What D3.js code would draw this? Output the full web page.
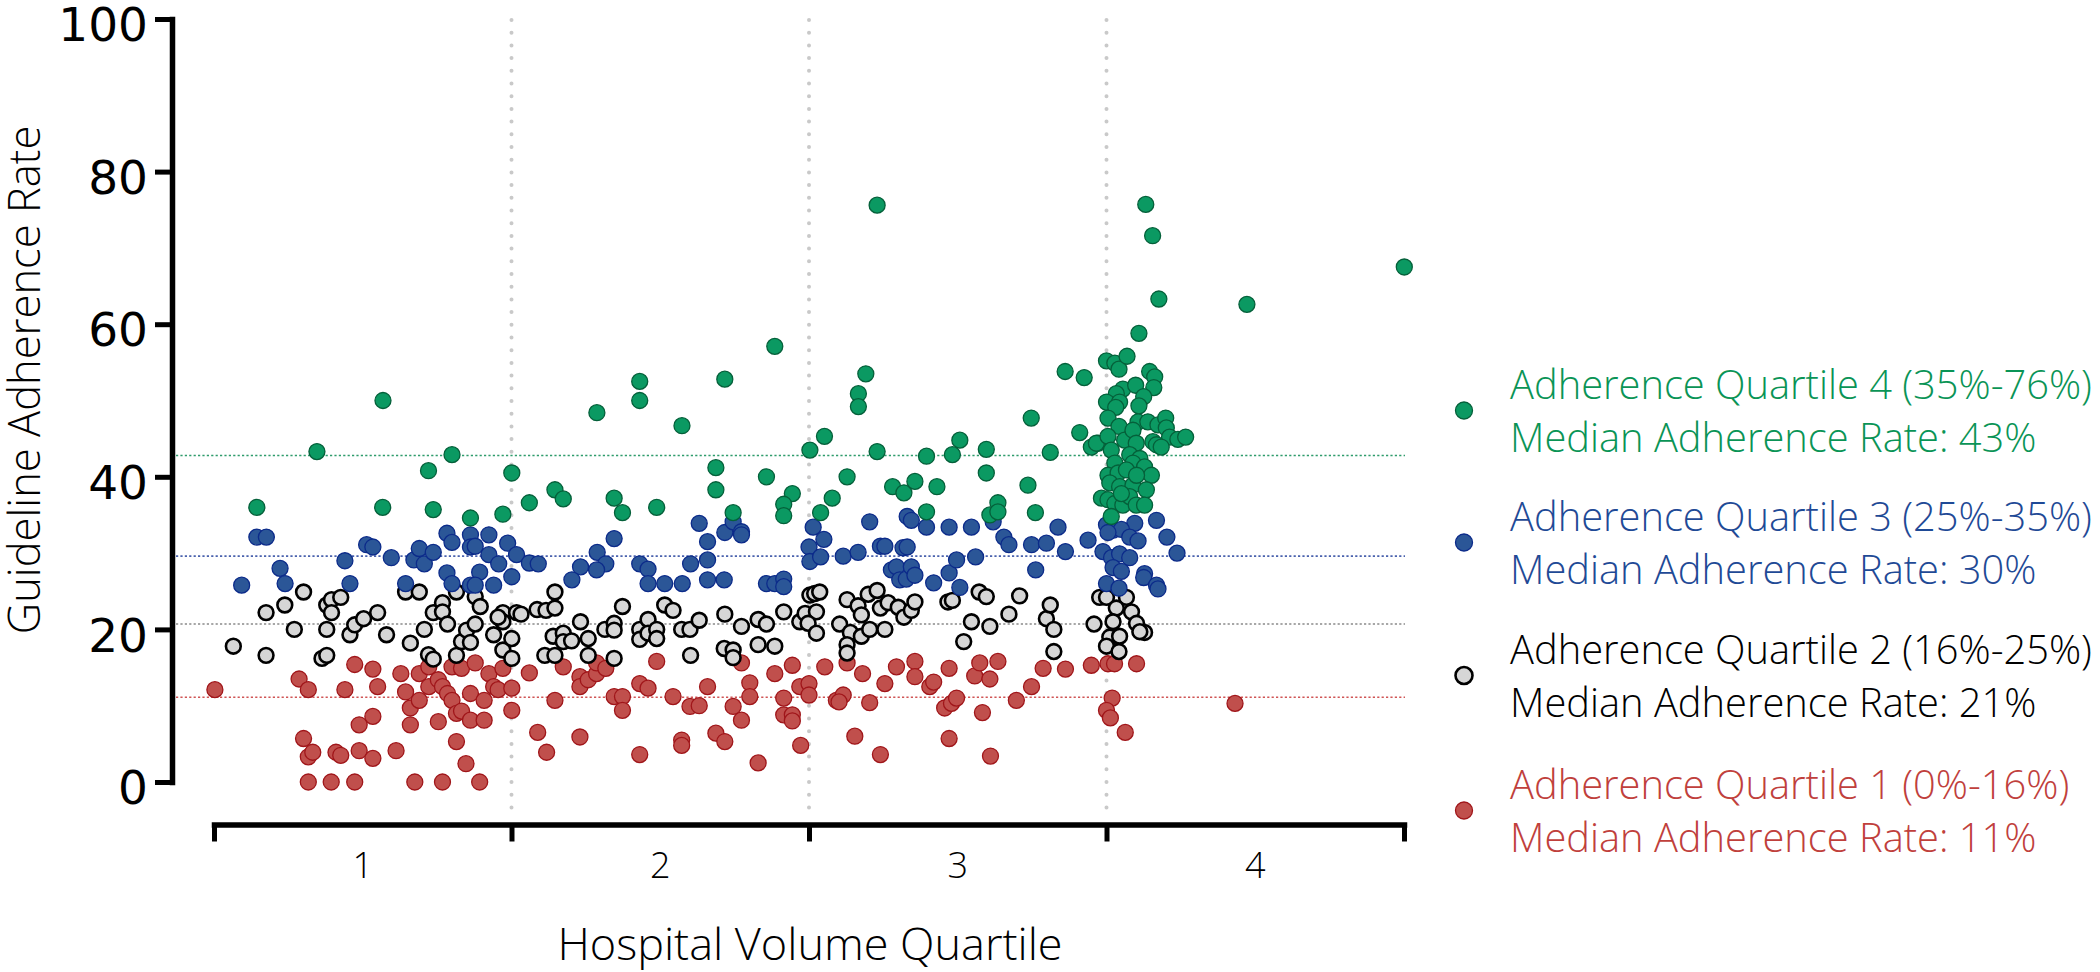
<!DOCTYPE html>
<html><head><meta charset="utf-8">
<script src="https://cdn.jsdelivr.net/npm/d3@7"></script>
<style>html,body{margin:0;padding:0;background:#fff;} svg{display:block;}</style>
</head><body>
<svg id="chart" width="2100" height="972"></svg>
<script>
// ---------------- DATA ----------------
// x: hospital volume index (each quartile spans 100 units), y: guideline adherence rate (%)
const categories = ["1", "2", "3", "4"];
const yTicks = [0, 20, 40, 60, 80, 100];
const quartileBounds = [100, 200, 300];
const medians = [42.8, 29.6, 20.7, 11.1];
const legendTitles = ["Adherence Quartile 4 (35%-76%)", "Adherence Quartile 3 (25%-35%)", "Adherence Quartile 2 (16%-25%)", "Adherence Quartile 1 (0%-16%)"];
const legendMedians = ["Median Adherence Rate: 43%", "Median Adherence Rate: 30%", "Median Adherence Rate: 21%", "Median Adherence Rate: 11%"];
const xTitle = "Hospital Volume Quartile";
const yTitle = "Guideline Adherence Rate";

const q4Points = [
[56.8,50.0],[128.7,48.4],[143.1,52.5],[143.1,50.0],[157.3,46.7],[171.7,52.8],[188.5,57.1],[205.2,45.3],[219.1,53.5],[216.6,50.9],[216.6,49.2],[250.7,44.8],[274.7,47.7],[286.1,53.8],[292.5,53.0],[291,45.8],
[313.2,75.7],[315.5,71.6],[400.1,67.5],[317.6,63.3],[347.2,62.6],[222.9,75.6],
[34.6,43.3],[80.0,42.9],[72.1,40.8],[100.1,40.5],[14.4,36.0],[56.7,36.0],[73.7,35.7],[86.2,34.6],[97.1,35.1],
[114.6,38.3],[117.4,37.1],[106.0,36.6],[134.5,37.2],[137.3,35.3],[148.8,36.0],[168.7,41.2],[168.7,38.3],[174.5,35.3],[185.7,40.0],[194.4,37.8],[191.5,36.4],[191.5,34.9],[200.3,43.5],
[222.9,43.3],[239.5,42.7],[248.2,42.9],[259.6,43.6],[281.1,43.2],[212.8,40.0],[207.8,37.2],[203.9,35.3],[228.1,38.7],[231.9,37.9],[235.6,39.4],[243.0,38.7],[239.5,35.4],[259.6,40.5],[260.8,35.0],[263.5,36.6],[263.5,35.4],[273.6,38.9],[276.1,35.3],[294.9,43.9],[297.2,44.4],
[310.9,58.8],[300,55.2],[302.8,54.9],[304.2,54.1],[306.9,55.8],[314.5,53.8],[316.2,53.1],[315.9,51.7],
[305.5,51.5],[309.8,52.0],[312.5,50.5],[310.9,49.3],[303.3,50.9],[300,49.8],[304.4,49.8],[303.1,49.1],
[300.5,47.7],[304.2,46.6],[310.6,47.2],[313.9,47.2],[317.3,46.8],[319.9,47.7],[320.1,46.4],[321.2,45.2],[324,44.9],[326.6,45.2],
[296.6,44.4],[300.5,45.3],[301.6,43.5],[306.1,44.8],[308.9,46.1],[310.0,44.4],[315.6,44.6],[316.8,44.2],[318.4,43.9],
[307.8,42.9],[311.2,42.4],[308.9,41.8],[302.8,41.8],[300.5,40.2],[303.9,40.5],[306.7,40.9],[312.8,41.3],[315.1,40.2],[301.1,39.2],[304.4,38.7],[308.9,38.9],[313.4,38.3],[310.1,40.2],
[298.3,37.2],[300.5,37.0],[302.8,36.5],[305.5,36.3],[307.8,37.4],[310.0,36.3],[312.8,36.3],[305.0,37.8],[301.6,34.8]
];

const q3Points = [
[14.4,32.1],[17.6,32.1],[9.3,25.8],[22.2,28.0],[23.9,26.0],[44.0,29.0],[45.7,26.0],[51.3,31.1],[53.4,30.8],[59.6,29.4],[64.4,26.0],[67.2,29.1],[69.0,30.6],[70.7,28.6],[73.7,30.1],[78.3,32.6],[80.0,31.4],[78.3,27.4],[80.0,26.0],[86.2,32.4],[86.2,30.8],[87.8,30.9],[92.4,32.4],[92.4,29.8],[89.3,27.5],[95.7,28.6],[98.7,31.3],[86.2,25.8],[87.8,25.8],[94.0,25.8],[100.1,26.9],[101.7,29.8],
[106.0,28.7],[109.0,28.6],[134.5,31.9],[128.8,30.1],[131.7,28.6],[128.6,27.8],[123.2,28.2],[120.3,26.5],[143.1,28.6],[145.9,27.9],[145.9,26.0],[151.5,26.0],[157.4,26.0],[160.2,28.6],[163.1,33.9],[165.9,31.5],[165.9,29.1],[165.9,26.5],[171.5,26.5],[171.7,32.7],[174.5,34.1],[177.3,32.8],[177.3,32.4],[185.7,26.0],[188.5,26.0],[191.5,26.6],[191.5,25.6],
[201.4,33.4],[205.0,31.8],[200.0,30.8],[200.3,28.9],[203.9,29.5],[211.5,29.6],[216.5,30.1],[220.4,34.1],[224.0,30.9],[225.5,30.9],[231.6,30.7],[233.0,30.8],[233.0,34.8],[234.4,34.3],[239.5,33.4],[247.1,33.4],[254.6,33.4],[227.7,27.8],[229.4,28.2],[230.5,26.5],[232.7,26.6],[234.4,28.2],[235.6,27.1],[241.9,26.1],[247.1,27.4],[249.6,29.1],[250.7,25.5],[256.0,29.5],[265.5,32.1],[267.2,31.1],[274.8,31.1],[279.8,31.3],[283.7,33.4],[286.2,30.2],[293.8,31.7],[276.2,27.8],[261.9,34.1],
[316.8,34.3],[320.3,32.1],[323.7,30.0],[309.5,33.9],[300,33.7],[302.2,33.0],[305,33.1],[307.8,32.1],[310.6,31.6],[298.8,30.2],[301.7,29.4],[304.4,29.9],[307.8,29.4],[302.2,28.1],[305,27.6],[312.8,27.3],[312.5,26.8],[316.8,25.8],[317.3,25.3],[300,26.0],[304.2,25.4],[300.5,32.7]
];

const q2Points = [
[6.5,17.8],[17.5,16.6],[17.5,22.2],[23.8,23.2],[27.0,20.0],[30.1,24.9],[37.9,20.0],[36.3,16.2],[37.9,16.6],[37.9,23.2],[39.5,23.9],[42.6,24.2],[39.5,22.2],[45.7,19.3],[47.3,20.6],[50.3,21.4],[55.0,22.2],[58.0,19.3],[66.0,18.2],[64.4,24.9],[69.0,24.9],[70.7,20.0],[72.1,16.7],[73.7,16.1],[73.7,22.2],[76.8,23.5],[76.8,22.3],[78.5,20.7],[81.5,24.9],[81.5,16.6],[83.2,18.4],[84.9,19.9],[86.2,18.3],[87.8,20.7],[87.8,24.3],[89.5,23.0],[94.0,19.3],[97.1,22.2],[97.1,21.0],[97.1,17.3],[100.1,18.8],[100.1,16.2],[101.7,22.2],[95.5,21.6],
[103.2,22.0],[108.6,22.6],[111.6,22.5],[114.6,22.8],[114.6,24.9],[111.2,16.6],[114.6,16.6],[114.0,19.1],[117.4,19.5],[117.4,18.4],[120.2,18.5],[123.2,21.0],[125.8,18.8],[125.8,16.6],[131.4,20.0],[134.5,20.8],[134.5,19.9],[134.5,16.2],[137.3,23.0],[143.1,20.0],[143.1,18.7],[145.9,21.3],[145.9,19.5],[148.8,20.0],[148.8,18.8],[151.5,23.2],[154.3,22.5],[157.2,20.0],[160.0,20.0],[163.1,21.2],[160.2,16.6],[171.7,22.0],[171.5,17.5],[174.5,17.3],[174.5,16.3],[177.3,20.4],[182.9,21.3],[185.7,20.7],[182.9,18.0],[188.5,17.8],[191.5,22.3],[196.9,21.0],
[200.3,24.5],[201.9,24.7],[203.6,24.9],[198.7,22.1],[202.5,22.3],[199.7,20.8],[202.5,19.5],[210.3,20.7],[212.8,23.9],[213.9,19.6],[212.8,18.0],[212.8,16.9],[216.5,23.1],[217.6,21.9],[217.6,19.1],[220.4,20.0],[219.9,24.6],[222.9,25.1],[224.0,22.8],[226.6,23.5],[225.5,20.0],[230.0,22.9],[231.9,21.6],[234.4,22.5],[235.6,23.6],[246.7,23.6],[248.2,23.8],[252.0,18.4],[254.6,21.0],[257.2,24.9],[259.6,24.3],[260.8,20.4],[267.2,22.0],[270.8,24.4],[279.8,21.4],[281.1,23.2],[282.3,20.0],[282.3,17.1],[295.8,20.7],
[297.7,24.2],[300,24.2],[306.7,24.2],[303.3,22.8],[308.4,22.3],[302.2,21.0],[310.1,20.8],[312.8,19.6],[311.2,19.7],[301.1,19.0],[304.4,19.1],[300,17.8],[304.2,17.1]
];

const q1Points = [
[0.3,12.1],[28.6,13.5],[31.7,12.1],[44.0,12.1],[47.3,15.4],[53.4,14.8],[55.0,12.5],[48.8,7.5],[53.4,8.6],[30.1,5.7],[31.7,3.3],[33.2,3.9],[41.0,3.9],[42.6,3.5],[48.8,4.1],[53.4,3.1],[61.2,4.1],[31.7,0],[39.4,0],[47.3,0],[67.5,0],[76.8,0],[89.3,0],[62.8,14.2],[64.4,11.8],[66.0,9.7],[66.0,7.5],[69.0,14.2],[69.0,10.7],[72.2,12.5],[72.2,15.1],[75.4,13.4],[75.4,7.9],[76.8,12.5],[78.5,11.6],[80.0,15.1],[80.0,10.7],[81.5,9.0],[81.5,5.3],[83.2,9.3],[83.2,14.9],[84.7,2.4],[86.2,11.6],[86.2,8.1],[87.8,15.6],[90.8,8.1],[90.8,10.7],[92.4,14.2],[94.0,12.5],[95.5,12.1],[97.1,14.9],[100.1,12.3],[100.1,9.4],
[106.0,14.3],[117.4,15.1],[114.6,10.7],[108.8,6.5],[111.8,3.9],[123.0,5.9],[123.0,13.8],[123.0,12.5],[125.8,13.4],[128.6,14.2],[128.6,15.6],[131.7,14.9],[134.5,11.2],[137.3,11.2],[137.3,9.4],[148.8,15.8],[143.1,12.9],[145.9,12.3],[143.1,3.6],[154.3,11.2],[160.0,9.9],[163.1,10.0],[157.2,5.5],[157.2,4.8],[165.9,12.5],[168.7,6.4],[171.7,5.3],[174.5,9.9],[177.3,8.1],[177.3,15.6],[180.1,13.0],[180.1,11.2],[182.9,2.5],[188.5,14.2],[191.5,11.0],[191.5,8.8],[194.4,8.8],[194.4,8.0],[194.4,15.3],[197.2,4.8],[196.9,12.5],[200.0,12.9],[200.0,11.4],
[205.3,15.1],[209.2,10.7],[211.5,11.4],[210.1,10.5],[212.8,15.6],[215.4,6.0],[218.0,14.2],[220.4,10.4],[224.0,3.6],[225.5,12.9],[229.4,15.1],[235.6,15.8],[235.6,13.8],[240.6,12.5],[241.9,13.1],[245.6,9.7],[247.9,10.3],[249.6,11.0],[247.1,14.9],[247.1,5.7],[255.7,13.9],[257.4,15.6],[260.8,13.5],[263.5,15.8],[258.3,9.1],[261.0,3.4],[269.7,10.7],[274.8,12.5],[278.7,14.9],[286.2,14.8],[294.9,15.3],
[300.5,15.5],[302.7,15.5],[310.1,15.5],[301.9,11.0],[300,9.4],[301.3,8.4],[306.3,6.5],[343.2,10.3]
];

// ---------------- STYLE ----------------
const series = [
  {pts: q4Points, fill: "#0b9962", stroke: "#05603a", sw: 1.3, line: "#2f9c6c", text: "#0a9456"},
  {pts: q3Points, fill: "#2b5697", stroke: "#0c2b8a", sw: 1.3, line: "#4a62ad", text: "#1f4a96"},
  {pts: q2Points, fill: "#d6d6d6", stroke: "#000000", sw: 2.6, line: "#8a8a8a", text: "#000000"},
  {pts: q1Points, fill: "#c04f4c", stroke: "#a0161a", sw: 1.3, line: "#d05555", text: "#c0403c"}
];
series.forEach((s, i) => { s.median = medians[i]; s.title = legendTitles[i]; s.medText = legendMedians[i]; });

const svg = d3.select("#chart");
const x = d3.scaleLinear().domain([0, 400]).range([214, 1404]);
const y = d3.scaleLinear().domain([0, 100]).range([782, 19]);
const xBand = d3.scaleBand().domain(categories).range([214, 1404]);
const textFont = "'Open Sans', 'Noto Sans', sans-serif";

// vertical quartile separators
svg.append("g").selectAll("line").data(quartileBounds).join("line")
  .attr("x1", d => x(d)).attr("x2", d => x(d))
  .attr("y1", 20).attr("y2", 815)
  .attr("stroke", "#c9c9c9").attr("stroke-width", 4)
  .attr("stroke-linecap", "round").attr("stroke-dasharray", "0 12.7");

// median lines
svg.append("g").selectAll("line").data(series).join("line")
  .attr("x1", 176).attr("x2", 1405)
  .attr("y1", d => y(d.median)).attr("y2", d => y(d.median))
  .attr("stroke", d => d.line).attr("stroke-width", 1.6)
  .attr("stroke-dasharray", "2.2 2.2");

// points (red first, green last)
const ptsG = svg.append("g");
series.slice().reverse().forEach(s => {
  ptsG.append("g").selectAll("circle").data(s.pts).join("circle")
    .attr("cx", d => x(d[0])).attr("cy", d => y(d[1]))
    .attr("r", s.sw > 2 ? 7.4 : 8.0)
    .attr("fill", s.fill).attr("stroke", s.stroke).attr("stroke-width", s.sw);
});

// Y axis
const yAxis = svg.append("g").attr("transform", "translate(172,0)")
  .call(d3.axisLeft(y).tickValues(yTicks).tickSize(17).tickSizeOuter(0).tickPadding(7));
yAxis.select(".domain").attr("stroke", "#000").attr("stroke-width", 5.5).attr("stroke-linecap", "square");
yAxis.selectAll(".tick line").attr("stroke", "#000").attr("stroke-width", 5);
yAxis.selectAll(".tick text").attr("font-family", "'DejaVu Sans', sans-serif")
  .attr("font-size", 47).attr("fill", "#000").attr("dy", "0.46em");

// X axis
const xAxis = svg.append("g").attr("transform", "translate(0,824.5)")
  .call(d3.axisBottom(x).tickValues([0, 100, 200, 300, 400]).tickSize(17).tickSizeOuter(0).tickFormat(""));
xAxis.select(".domain").attr("stroke", "#000").attr("stroke-width", 5.5).attr("stroke-linecap", "square");
xAxis.selectAll(".tick line").attr("stroke", "#000").attr("stroke-width", 5);

svg.append("g").selectAll("text").data(categories).join("text")
  .attr("x", d => xBand(d) + xBand.bandwidth() / 2).attr("y", 878)
  .attr("text-anchor", "middle").attr("font-family", textFont).attr("font-weight", 300)
  .attr("font-size", 36).attr("fill", "#000").text(d => d);

// axis titles
svg.append("text").attr("x", 810).attr("y", 960).attr("text-anchor", "middle")
  .attr("font-family", textFont).attr("font-weight", 300).attr("font-size", 45).attr("fill", "#000").text(xTitle);
svg.append("text").attr("transform", "translate(40,380) rotate(-90)").attr("text-anchor", "middle")
  .attr("font-family", textFont).attr("font-weight", 300).attr("font-size", 43.5).attr("fill", "#000").text(yTitle);

// legend
const legBase = [399, 531, 664, 799];
const leg = svg.append("g").selectAll("g").data(series).join("g")
  .attr("transform", (d, i) => `translate(0,${legBase[i]})`);
leg.append("circle").attr("cx", 1464).attr("cy", 11.5).attr("r", 8.5)
  .attr("fill", d => d.fill).attr("stroke", d => d.stroke).attr("stroke-width", d => d.sw);
const legTitles = leg.append("text").attr("x", 1510).attr("y", 0)
  .attr("font-family", textFont).attr("font-weight", 300).attr("font-size", 40)
  .attr("fill", d => d.text).text(d => d.title);
const legMeds = leg.append("text").attr("x", 1510).attr("y", 53)
  .attr("font-family", textFont).attr("font-weight", 300).attr("font-size", 40)
  .attr("fill", d => d.text).text(d => d.medText);
// fit legend font size: widest title must stay inside the page, median line ~533px wide
let maxTitle = 0, medLen = 0;
legTitles.each(function() { maxTitle = Math.max(maxTitle, this.getComputedTextLength()); });
legMeds.each(function() { medLen = Math.max(medLen, this.getComputedTextLength()); });
const legFs = 40 * Math.min(582 / maxTitle, 533 / medLen);
legTitles.attr("font-size", legFs);
legMeds.attr("font-size", legFs);
</script>
</body></html>
